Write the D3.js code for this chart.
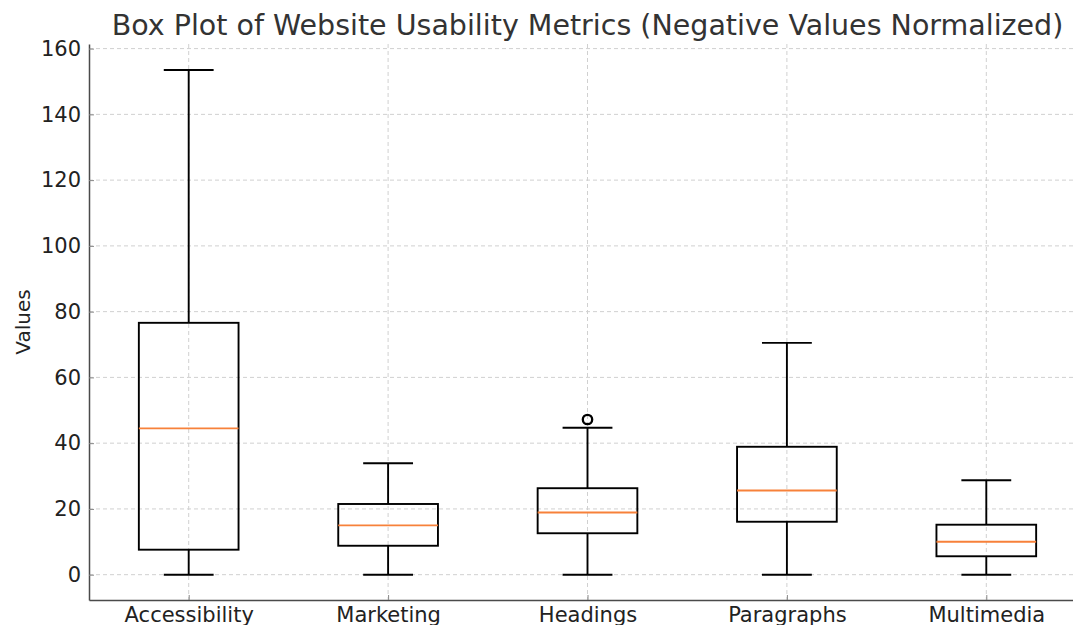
<!DOCTYPE html>
<html>
<head>
<meta charset="utf-8">
<script src="https://cdn.jsdelivr.net/npm/d3@7"></script>
<style>
  html, body { margin: 0; padding: 0; background: #fff; }
  #chart { width: 1073px; height: 625px; overflow: hidden; }
  text { font-family: "DejaVu Sans", sans-serif; }
</style>
</head>
<body>
<div id="chart"></div>
<script>
// datos
var categories = ['Accessibility', 'Marketing', 'Headings', 'Paragraphs', 'Multimedia'];
var whiskerLow = [0, 0, 0, 0, 0];
var q1 = [7.6, 8.8, 12.6, 16.1, 5.6];
var median = [44.5, 15.0, 18.9, 25.6, 10.0];
var q3 = [76.6, 21.5, 26.3, 38.9, 15.2];
var whiskerHigh = [153.5, 33.9, 44.7, 70.5, 28.7];
var outliers = [[], [], [47.2], [], []];
var yTicks = [0, 20, 40, 60, 80, 100, 120, 140, 160];

var boxes = categories.map(function(c, i) {
  return {cat: c, lo: whiskerLow[i], q1: q1[i], med: median[i], q3: q3[i], hi: whiskerHigh[i], out: outliers[i]};
});

var W = 1073, H = 625;
var margin = {top: 44, left: 89};
var plotW = 997, plotH = 556;

var svg = d3.select('#chart').append('svg')
  .attr('width', W)
  .attr('height', H);

var g = svg.append('g')
  .attr('transform', 'translate(' + margin.left + ',' + margin.top + ')');

// escalas
var x = d3.scalePoint()
  .domain(categories)
  .range([0, plotW])
  .padding(0.5);
var step = x.step();

var y = d3.scaleLinear()
  .domain([-7.7, 161.4])
  .range([plotH, 0]);

// grilla
g.append('g').selectAll('line.gy').data(yTicks).enter().append('line')
  .attr('class', 'gy')
  .attr('x1', 0).attr('x2', plotW)
  .attr('y1', function(d) { return y(d); })
  .attr('y2', function(d) { return y(d); })
  .attr('stroke', '#d0d0d0').attr('stroke-width', 1).attr('stroke-dasharray', '4,3');

g.append('g').selectAll('line.gx').data(categories).enter().append('line')
  .attr('class', 'gx')
  .attr('x1', function(d) { return x(d); })
  .attr('x2', function(d) { return x(d); })
  .attr('y1', 0).attr('y2', plotH)
  .attr('stroke', '#d0d0d0').attr('stroke-width', 1).attr('stroke-dasharray', '4,3');

// ejes
var yAxis = d3.axisLeft(y).tickValues(yTicks).tickSizeInner(-5).tickSizeOuter(0).tickPadding(8);
var yAxisG = g.append('g').attr('class', 'y-axis').call(yAxis);

var xAxis = d3.axisBottom(x).tickSizeInner(-5).tickSizeOuter(0).tickPadding(7);
var xAxisG = g.append('g').attr('class', 'x-axis')
  .attr('transform', 'translate(0,' + plotH + ')')
  .call(xAxis);

[yAxisG, xAxisG].forEach(function(ax) {
  ax.select('.domain').attr('stroke', '#4a4a4a').attr('stroke-width', 1.5);
  ax.selectAll('.tick line').attr('stroke', '#888').attr('stroke-width', 1);
  ax.selectAll('.tick text')
    .attr('fill', '#222')
    .style('font-size', '21px')
    .style('font-family', '"DejaVu Sans", sans-serif');
});

// cajas
var bw = step * 0.5, cw = step * 0.25;
var lw = 1.9;
var bg = g.append('g').selectAll('g.box').data(boxes).enter().append('g').attr('class', 'box');

bg.append('line')
  .attr('x1', function(d) { return x(d.cat); }).attr('x2', function(d) { return x(d.cat); })
  .attr('y1', function(d) { return y(d.lo); }).attr('y2', function(d) { return y(d.q1); })
  .attr('stroke', '#000').attr('stroke-width', lw);
bg.append('line')
  .attr('x1', function(d) { return x(d.cat); }).attr('x2', function(d) { return x(d.cat); })
  .attr('y1', function(d) { return y(d.q3); }).attr('y2', function(d) { return y(d.hi); })
  .attr('stroke', '#000').attr('stroke-width', lw);
bg.append('line')
  .attr('x1', function(d) { return x(d.cat) - cw / 2; }).attr('x2', function(d) { return x(d.cat) + cw / 2; })
  .attr('y1', function(d) { return y(d.lo); }).attr('y2', function(d) { return y(d.lo); })
  .attr('stroke', '#000').attr('stroke-width', lw);
bg.append('line')
  .attr('x1', function(d) { return x(d.cat) - cw / 2; }).attr('x2', function(d) { return x(d.cat) + cw / 2; })
  .attr('y1', function(d) { return y(d.hi); }).attr('y2', function(d) { return y(d.hi); })
  .attr('stroke', '#000').attr('stroke-width', lw);
bg.append('rect')
  .attr('x', function(d) { return x(d.cat) - bw / 2; })
  .attr('y', function(d) { return y(d.q3); })
  .attr('width', bw)
  .attr('height', function(d) { return y(d.q1) - y(d.q3); })
  .attr('fill', 'none').attr('stroke', '#000').attr('stroke-width', lw);
bg.append('line')
  .attr('x1', function(d) { return x(d.cat) - bw / 2; }).attr('x2', function(d) { return x(d.cat) + bw / 2; })
  .attr('y1', function(d) { return y(d.med); }).attr('y2', function(d) { return y(d.med); })
  .attr('stroke', '#f7813a').attr('stroke-width', lw);

bg.selectAll('circle').data(function(d) { return d.out.map(function(v) { return {cat: d.cat, v: v}; }); })
  .enter().append('circle')
  .attr('cx', function(d) { return x(d.cat); })
  .attr('cy', function(d) { return y(d.v); })
  .attr('r', 4.7)
  .attr('fill', 'none').attr('stroke', '#000').attr('stroke-width', 2.3);

// titulo y etiqueta
svg.append('text')
  .attr('x', margin.left + plotW / 2)
  .attr('y', 35)
  .attr('text-anchor', 'middle')
  .attr('fill', '#333')
  .style('font-size', '28.5px')
  .text('Box Plot of Website Usability Metrics (Negative Values Normalized)');

svg.append('text')
  .attr('transform', 'translate(30,' + (margin.top + plotH / 2) + ') rotate(-90)')
  .attr('text-anchor', 'middle')
  .attr('fill', '#222')
  .style('font-size', '20px')
  .text('Values');
</script>
</body>
</html>
